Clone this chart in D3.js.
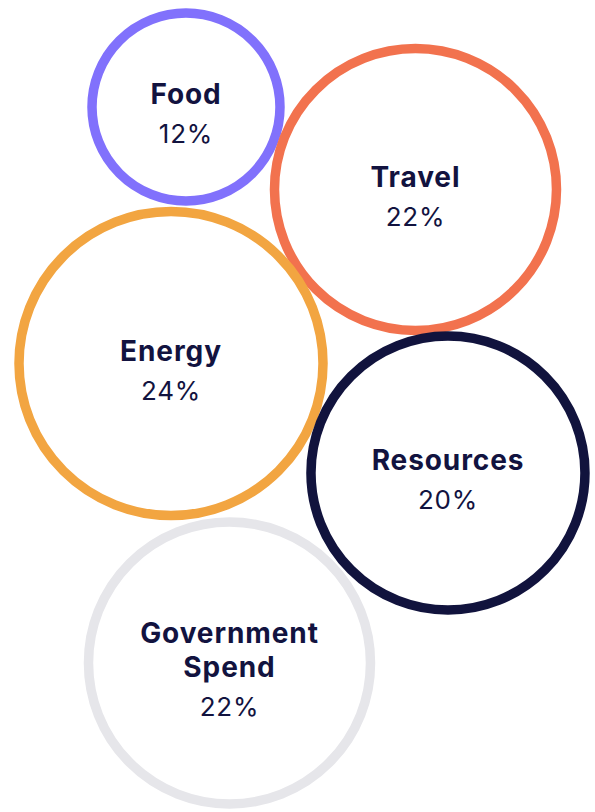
<!DOCTYPE html>
<html>
<head>
<meta charset="utf-8">
<script src="https://cdn.jsdelivr.net/npm/d3@7"></script>
<style>
  body { margin: 0; background: #fff; }
</style>
</head>
<body>
<div id="bubbles"></div>
<script>
// chart data
var categories = ['Food', 'Travel', 'Energy', 'Resources', 'Government Spend']
var shares = [12, 22, 24, 20, 22]
var colors = ['#8171fc', '#f2724e', '#f2a541', '#11133d', '#e6e6ea']
// bubble centres as fractions of the page
var posX = [0.3126, 0.6983, 0.2874, 0.7529, 0.3857]
var posY = [0.1318, 0.2334, 0.4477, 0.5825, 0.8165]

var width = 595
var height = 812

var svg = d3
  .select('#bubbles')
  .append('svg')
  .attr('width', width)
  .attr('height', height)

var x = d3.scaleLinear().domain([0, 1]).range([0, width])
var y = d3.scaleLinear().domain([0, 1]).range([0, height])
var r = d3.scaleLinear().domain([12, 20, 22, 24]).range([94, 137, 141, 152])

var data = categories.map((c, i) => ({
  name: c,
  value: shares[i],
  color: colors[i],
  x: posX[i],
  y: posY[i]
}))

var nodes = svg
  .selectAll('.bubble')
  .data(data)
  .enter()
  .append('g')
  .attr('class', 'bubble')
  .attr('transform', d => 'translate(' + x(d.x) + ',' + y(d.y) + ')')

nodes
  .append('circle')
  .attr('r', d => r(d.value))
  .attr('fill', 'none')
  .attr('stroke', d => d.color)
  .attr('stroke-width', 9.5)

var textColor = '#12133f'
var lineH = 34

nodes.each(function (d) {
  var g = d3.select(this)
  var words = d.name.split(' ')
  var lines = words.length > 1 ? words : [d.name]
  var first = -3 - (lines.length - 1) * (lineH / 2)
  lines.forEach((l, i) => {
    g.append('text')
      .attr('text-anchor', 'middle')
      .attr('y', first + i * lineH)
      .attr('font-family', 'Inter, sans-serif')
      .attr('font-weight', 700)
      .attr('font-size', 28)
      .attr('letter-spacing', 0.9)
      .attr('fill', textColor)
      .text(l)
  })
  g.append('text')
    .attr('text-anchor', 'middle')
    .attr('y', first + (lines.length - 1) * lineH + 39)
    .attr('font-family', 'Inter, sans-serif')
    .attr('font-weight', 400)
    .attr('font-size', 26)
    .attr('letter-spacing', 0.8)
    .attr('fill', textColor)
    .text(d.value + '%')
})
</script>
</body>
</html>
